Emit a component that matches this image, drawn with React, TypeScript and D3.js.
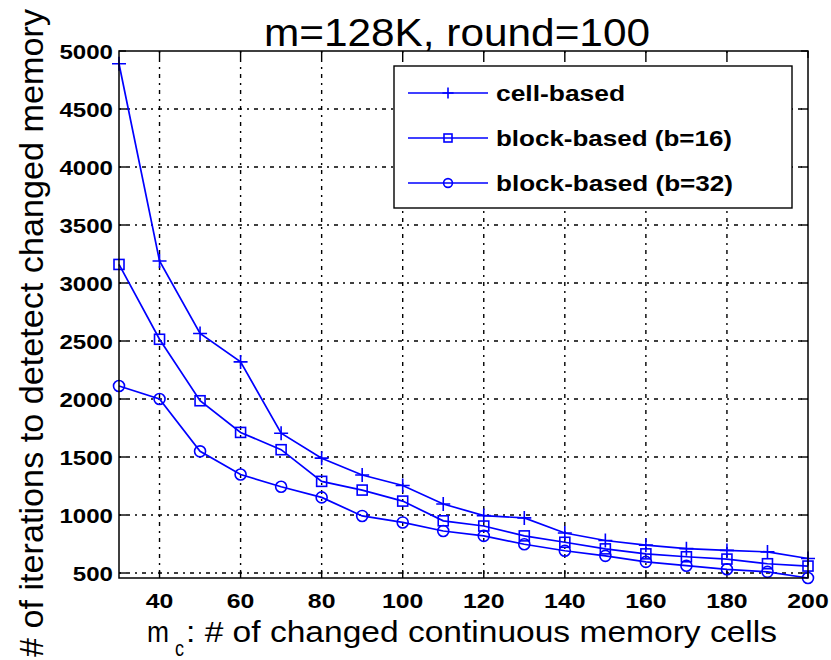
import React from "react";
import * as d3 from "d3";

// m_c values on the x axis
const mc = [30, 40, 50, 60, 70, 80, 90, 100, 110, 120, 130, 140, 150, 160, 170, 180, 190, 200];

// iterations to detect changed memory
const cellBased = [4890, 3190, 2565, 2320, 1705, 1490, 1345, 1255, 1095, 995, 975, 845, 780, 740, 710, 695, 682, 625];
const block16 = [3160, 2515, 1985, 1712, 1563, 1290, 1215, 1120, 950, 905, 820, 765, 708, 665, 640, 620, 580, 560];
const block32 = [2112, 2000, 1549, 1349, 1244, 1152, 992, 936, 862, 820, 748, 692, 648, 596, 563, 532, 510, 457];

const xTicks = [40, 60, 80, 100, 120, 140, 160, 180, 200];
const yTicks = [500, 1000, 1500, 2000, 2500, 3000, 3500, 4000, 4500, 5000];

const seriesNames = ["cell-based", "block-based (b=16)", "block-based (b=32)"];
const seriesMarkers = ["plus", "square", "circle"];
const legendWidths = [129, 236, 237];

const BLUE = "#0000ff";
const FONT = "'Liberation Sans', Arial, Helvetica, sans-serif";

const left = 119;
const right = 808;
const top = 51;
const bottom = 578;

const Marker = ({ kind, x, y, s = 1 }: { kind: string; x: number; y: number; s?: number }) => {
  if (kind === "plus") {
    const a = 7 * s;
    return (
      <path
        d={`M${x - a},${y}H${x + a}M${x},${y - a}V${y + a}`}
        stroke={BLUE}
        strokeWidth={1.6}
        fill="none"
      />
    );
  }
  if (kind === "square") {
    const a = 5 * s;
    return <rect x={x - a} y={y - a} width={2 * a} height={2 * a} stroke={BLUE} strokeWidth={1.6} fill="none" />;
  }
  return <circle cx={x} cy={y} r={5.5 * s} stroke={BLUE} strokeWidth={1.6} fill="none" />;
};

export default function App() {
  const x = d3.scaleLinear().domain([30, 200]).range([left, right]);
  const y = d3.scaleLinear().domain([457, 5000]).range([bottom, top]);

  const series = [cellBased, block16, block32];
  const line = d3
    .line<number>()
    .x((_, i) => x(mc[i]))
    .y((d) => y(d));

  const tickLen = 7;

  return (
    <svg width={831} height={660} style={{ display: "block", position: "absolute", left: 0, top: 0 }} fontFamily={FONT}>
      <rect width={831} height={660} fill="#fff" />

      {/* grid */}
      <g stroke="#000" strokeWidth={1.4} strokeDasharray="2,5,4,5" fill="none">
        {xTicks
          .filter((t) => t < 200)
          .map((t) => (
            <line key={"gx" + t} x1={x(t)} x2={x(t)} y1={top} y2={bottom} />
          ))}
        {yTicks
          .filter((t) => t < 5000)
          .map((t) => (
            <line key={"gy" + t} x1={left} x2={right} y1={y(t)} y2={y(t)} />
          ))}
      </g>

      {/* ticks */}
      <g stroke="#000" strokeWidth={1.4}>
        {xTicks.map((t) => (
          <g key={"tx" + t}>
            <line x1={x(t)} x2={x(t)} y1={bottom} y2={bottom - tickLen} />
            <line x1={x(t)} x2={x(t)} y1={top} y2={top + tickLen} />
          </g>
        ))}
        {yTicks.map((t) => (
          <g key={"ty" + t}>
            <line x1={left} x2={left + tickLen} y1={y(t)} y2={y(t)} />
            <line x1={right} x2={right - tickLen} y1={y(t)} y2={y(t)} />
          </g>
        ))}
      </g>

      {/* series */}
      {series.map((s, k) => (
        <g key={"s" + k}>
          <path d={line(s) || ""} stroke={BLUE} strokeWidth={1.7} fill="none" />
          {s.map((v, i) => (
            <Marker key={i} kind={seriesMarkers[k]} x={x(mc[i])} y={y(v)} />
          ))}
        </g>
      ))}

      {/* frame */}
      <rect x={left} y={top} width={right - left} height={bottom - top} fill="none" stroke="#000" strokeWidth={1.5} />

      {/* tick labels */}
      <g fontSize={21} fontWeight="bold" fill="#000">
        {xTicks.map((t) => (
          <text
            key={"lx" + t}
            x={x(t)}
            y={608}
            textAnchor="middle"
            textLength={String(t).length * 13.8}
            lengthAdjust="spacingAndGlyphs"
          >
            {t}
          </text>
        ))}
        {yTicks.map((t) => (
          <text
            key={"ly" + t}
            x={113}
            y={y(t)}
            dy="0.36em"
            textAnchor="end"
            textLength={String(t).length * 13.4}
            lengthAdjust="spacingAndGlyphs"
          >
            {t}
          </text>
        ))}
      </g>

      {/* title */}
      <text x={457} y={46} fontSize={38} textAnchor="middle" textLength={386} lengthAdjust="spacingAndGlyphs">
        m=128K, round=100
      </text>

      {/* x label */}
      <text x={147} y={642} fontSize={30} textLength={22} lengthAdjust="spacingAndGlyphs">
        m
      </text>
      <text x={175} y={656} fontSize={22} textLength={9} lengthAdjust="spacingAndGlyphs">
        c
      </text>
      <text x={186} y={642} fontSize={30} textLength={591} lengthAdjust="spacingAndGlyphs">
        : # of changed continuous memory cells
      </text>

      {/* y label */}
      <text
        transform={`translate(43,333) rotate(-90)`}
        fontSize={33}
        textAnchor="middle"
        textLength={648}
        lengthAdjust="spacingAndGlyphs"
      >
        # of iterations to detetect changed memory
      </text>

      {/* legend */}
      <g>
        <rect x={394} y={66} width={398} height={142} fill="#fff" stroke="#000" strokeWidth={1.4} />
        {seriesNames.map((name, k) => {
          const ly = 93 + k * 45;
          return (
            <g key={"lg" + k}>
              <line x1={408} x2={488} y1={ly} y2={ly} stroke={BLUE} strokeWidth={1.7} />
              <Marker kind={seriesMarkers[k]} x={448} y={ly} s={0.8} />
              <text
                x={496}
                y={ly}
                dy="0.36em"
                fontSize={22}
                fontWeight="bold"
                textLength={legendWidths[k]}
                lengthAdjust="spacingAndGlyphs"
              >
                {name}
              </text>
            </g>
          );
        })}
      </g>
    </svg>
  );
}
